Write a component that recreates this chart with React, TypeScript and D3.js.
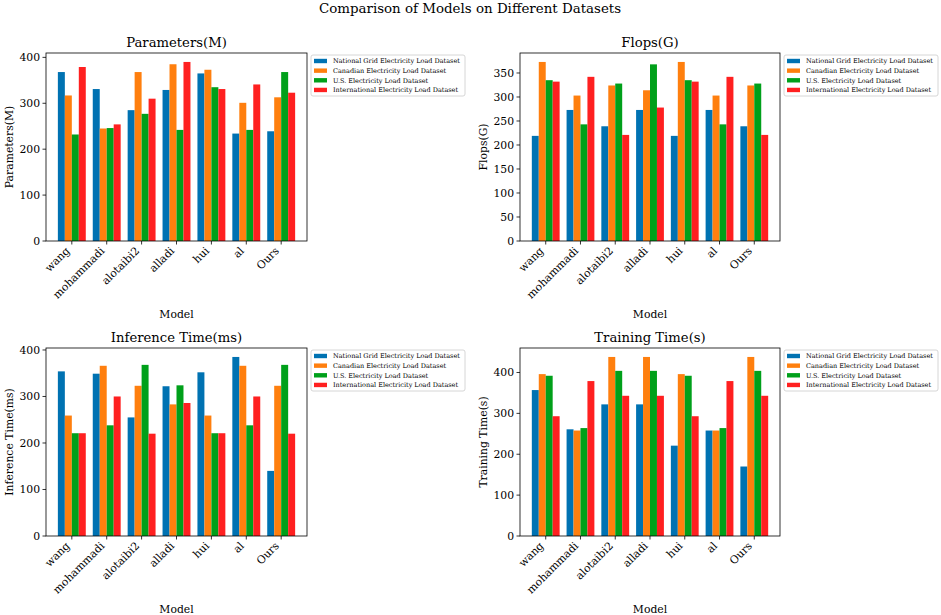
import * as d3 from 'd3';

const MODELS = ['wang', 'mohammadi', 'alotaibi2', 'alladi', 'hui', 'al', 'Ours'];
const DATASETS = [
  'National Grid Electricity Load Dataset',
  'Canadian Electricity Load Dataset',
  'U.S. Electricity Load Dataset',
  'International Electricity Load Dataset',
];
const COLORS = ['#0072B2', '#FF7F0E', '#00A01A', '#FF2020'];

// one row per dataset, one value per model
const PARAMETERS = [
  [368, 331, 285, 329, 365, 234, 239],
  [317, 245, 368, 385, 373, 301, 313],
  [232, 246, 277, 242, 335, 242, 368],
  [379, 254, 310, 390, 331, 341, 323],
];
const FLOPS = [
  [219, 273, 239, 273, 219, 273, 239],
  [373, 303, 324, 314, 373, 303, 324],
  [335, 243, 328, 368, 335, 243, 328],
  [332, 342, 221, 278, 332, 342, 221],
];
const INFERENCE = [
  [354, 349, 255, 322, 352, 385, 140],
  [259, 366, 323, 283, 259, 366, 323],
  [221, 238, 368, 324, 221, 238, 368],
  [221, 300, 220, 286, 221, 300, 220],
];
const TRAINING = [
  [357, 261, 322, 322, 221, 258, 170],
  [396, 258, 438, 438, 396, 258, 438],
  [392, 264, 404, 404, 392, 264, 404],
  [293, 379, 343, 343, 293, 379, 343],
];

const TICKS_PARAMS = [0, 100, 200, 300, 400];
const TICKS_FLOPS = [0, 50, 100, 150, 200, 250, 300, 350];
const TICKS_INFER = [0, 100, 200, 300, 400];
const TICKS_TRAIN = [0, 100, 200, 300, 400];

const W = 941;
const H = 615;
const FONT = '"DejaVu Serif", serif';

const panels = [
  { title: 'Parameters(M)', values: PARAMETERS, ticks: TICKS_PARAMS, left: 46, right: 307, top: 53, bottom: 241, ylabX: 9 },
  { title: 'Flops(G)', values: FLOPS, ticks: TICKS_FLOPS, left: 520, right: 780, top: 53, bottom: 241, ylabX: 483 },
  { title: 'Inference Time(ms)', values: INFERENCE, ticks: TICKS_INFER, left: 46, right: 307, top: 348, bottom: 536, ylabX: 9 },
  { title: 'Training Time(s)', values: TRAINING, ticks: TICKS_TRAIN, left: 520, right: 780, top: 348, bottom: 536, ylabX: 483 },
];

function Panel({ p }: { p: (typeof panels)[number] }) {
  const x = d3.scaleBand<string>().domain(MODELS).range([p.left, p.right]).paddingInner(0.2).paddingOuter(0.34);
  const inner = d3.scaleBand<string>().domain(DATASETS).range([0, x.bandwidth()]).padding(0);
  const maxV = d3.max(p.values.flat()) ?? 1;
  const y = d3.scaleLinear().domain([0, maxV * 1.05]).range([p.bottom, p.top]);
  const cx = (p.left + p.right) / 2;
  const cy = (p.top + p.bottom) / 2;
  const legX = p.right + 4;
  const legY = p.top + 2;

  return (
    <g>
      {p.values.map((series, j) =>
        series.map((v, i) => (
          <rect
            key={`${j}-${i}`}
            x={(x(MODELS[i]) ?? 0) + (inner(DATASETS[j]) ?? 0)}
            y={y(v)}
            width={inner.bandwidth()}
            height={y(0) - y(v)}
            fill={COLORS[j]}
          />
        ))
      )}
      <rect x={p.left} y={p.top} width={p.right - p.left} height={p.bottom - p.top} fill="none" stroke="#000" strokeWidth={0.8} />
      {p.ticks.map((t) => (
        <g key={t} transform={`translate(0,${y(t)})`}>
          <line x1={p.left - 3.5} x2={p.left} stroke="#000" strokeWidth={0.8} />
          <text x={p.left - 6} dy="0.35em" textAnchor="end" fontSize={10.8} fill="#000">{t}</text>
        </g>
      ))}
      {MODELS.map((m) => {
        const tx = (x(m) ?? 0) + x.bandwidth() / 2;
        return (
          <g key={m}>
            <line x1={tx} x2={tx} y1={p.bottom} y2={p.bottom + 3.5} stroke="#000" strokeWidth={0.8} />
            <text transform={`translate(${tx - 1.5},${p.bottom + 10.5}) rotate(-45)`} textAnchor="end" fontSize={10.8} fill="#000">
              {m}
            </text>
          </g>
        );
      })}
      <text x={cx} y={p.top - 6} textAnchor="middle" fontSize={13.2} fill="#000">{p.title}</text>
      <text x={cx} y={p.bottom + 76.5} textAnchor="middle" fontSize={10.8} fill="#000">Model</text>
      <text transform={`translate(${p.ylabX},${cy}) rotate(-90)`} textAnchor="middle" dy="0.35em" fontSize={10.8} fill="#000">
        {p.title}
      </text>
      <rect x={legX} y={legY} width={154} height={41} rx={2} fill="#fff" fillOpacity={0.8} stroke="#cccccc" strokeWidth={0.8} />
      {DATASETS.map((d, j) => (
        <g key={d} transform={`translate(${legX + 3},${legY + 6 + j * 9.65})`}>
          <rect x={0} y={-2.2} width={13} height={4.4} fill={COLORS[j]} />
          <text x={19} dy="0.35em" fontSize={6.5} fill="#000">{d}</text>
        </g>
      ))}
    </g>
  );
}

export default function App() {
  return (
    <div style={{ position: 'absolute', left: 0, top: 0 }}>
      <svg width={W} height={H} viewBox={`0 0 ${W} ${H}`} style={{ display: 'block', background: '#fff', fontFamily: FONT }}>
        <rect width={W} height={H} fill="#fff" />
        <text x={470} y={12.5} textAnchor="middle" fontSize={13.4} fill="#000">Comparison of Models on Different Datasets</text>
        {panels.map((p) => (
          <Panel key={p.title} p={p} />
        ))}
      </svg>
    </div>
  );
}
